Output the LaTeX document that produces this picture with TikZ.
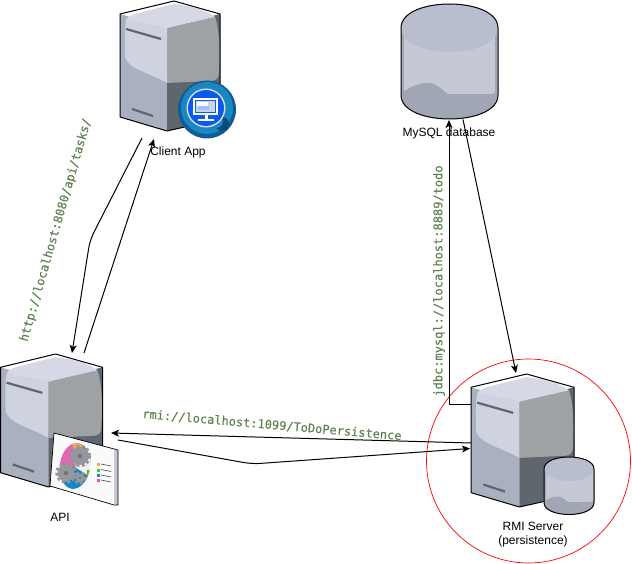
\documentclass[tikz,border=0pt]{standalone}
\usepackage{fontspec}
\setmainfont{Liberation Sans}
\newfontfamily\urlfont[FakeBold=0.25]{DejaVu Sans Mono}
\usetikzlibrary{arrows.meta,calc}
\definecolor{srvleft}{HTML}{A9B0BF}
\definecolor{srvhigh}{HTML}{CFD3DF}
\definecolor{srvtop}{HTML}{D6D9E5}
\definecolor{srvright}{HTML}{9EA2A4}
\definecolor{srvdark}{HTML}{5F666D}
\definecolor{cyltop}{HTML}{B9BECE}
\definecolor{cylbody}{HTML}{C5C9D4}
\definecolor{cyllow}{HTML}{A1A6B5}
\definecolor{urlgreen}{HTML}{5E8350}
\definecolor{ballout}{HTML}{0D5E95}
\definecolor{ballmid}{HTML}{1A86C4}
\definecolor{ballin}{HTML}{0A5CEE}
\definecolor{gearc}{HTML}{94979D}
\tikzset{
  x=1pt,y=-1pt,
  conn/.style={draw=black,line width=1pt,line join=round},
  arrowed/.style={-{Stealth[length=8pt,width=7pt,inset=2pt]}},
  holder/.style={inner sep=0pt,outer sep=0pt,draw=none},
  caplabel/.style={font=\fontsize{12}{14}\selectfont,align=center,inner sep=0pt},
  urllabel/.style={font=\urlfont\fontsize{12}{14}\selectfont,text=urlgreen,inner sep=0pt},
  server/.pic={
    \fill[srvleft] (0,13)--(47,27)--(47,130)--(0,116)--cycle;
    \fill[srvdark] (47,27)--(100,13)--(100,118)--(47,130)--cycle;
    \fill[srvright] (47,27)--(95,16) .. controls (100,30) and (100,55) .. (99,70)
       .. controls (99,78) and (96,80) .. (90,80) -- (47,82)--cycle;
    \fill[srvhigh] (47,27)--(6,19) .. controls (4,30) and (5,45) .. (5,56)
       .. controls (8,68) and (30,72) .. (47,82)--cycle;
    \fill[srvtop] (47,27)--(6,19) .. controls (9,13) and (20,12) .. (30,9)
       -- (54,3) .. controls (70,5) and (85,8) .. (95,16)--cycle;
    \draw[line width=2.2pt,color=srvdark] (6,28)--(41,38) (12,108)--(33,115);
    \draw[line width=1pt,line join=round] (0,13)--(54,0)--(100,13)--(100,118)--(47,130)--(0,116)--cycle;
  },
  drum/.pic={
    \fill[cyllow] (0,24) .. controls (0,-8) and (100,-8) .. (100,24) -- (100,91)
      .. controls (100,123) and (0,123) .. (0,91) -- cycle;
    \fill[cylbody] (3,30)--(97,30)--(97,90)--(3,90)--cycle;
    \fill[cyllow] (2,88) .. controls (10,83) and (17,79) .. (28,79)
      .. controls (42,79) and (44,94) .. (62,94)
      .. controls (74,94) and (88,93) .. (98,88) -- (98,100) -- (2,100) -- cycle;
    \fill[cyltop] (0,24) .. controls (0,-8) and (100,-8) .. (100,24)
      .. controls (98,56) and (2,56) .. (0,24) -- cycle;
    \draw[line width=1pt] (0,24) .. controls (0,-8) and (100,-8) .. (100,24) -- (100,91)
      .. controls (100,123) and (0,123) .. (0,91) -- cycle;
  }
}
\begin{document}
\begin{tikzpicture}
\useasboundingbox (0,0) rectangle (632,564);
% persistence ring
\node[holder,draw=red,line width=0.7pt,circle,minimum size=204pt] (ring) at (528.5,461) {};
% servers
\node[holder,minimum width=100pt,minimum height=130pt] (client) at (170,66) {};
\node[holder,minimum width=102pt,minimum height=133pt] (api) at (52,420.5) {};
\node[holder,minimum width=103pt,minimum height=133pt] (rmi) at (522.5,440.5) {};
\node[holder,minimum width=97pt,minimum height=115pt] (mysql) at (449.5,62) {};
\pic at (120,1) {server};
\pic[xscale=1.02,yscale=1.023] at (0.5,354) {server};
\pic[xscale=1.03,yscale=1.023] at (471,374) {server};
\pic[xscale=0.97] at (401,4) {drum};
\pic[xscale=0.5,yscale=0.5] at (544,457) {drum};
% client icon
\fill[ballout] (207,109.5) circle (29);
\fill[ballmid] (207,108) circle (26);
\fill[ballout!80!black] (222,124) circle (7);
\fill[ballmid] (216,121) circle (7);
\fill[white!75!gray] (206,108) circle (19.5);
\fill[ballin] (206,108) circle (18);
\fill[white] (193,98) rectangle (218,115);
\fill[ballin] (195,100) rectangle (216,113);
\fill[srvhigh] (196,101) rectangle (215,112);
\fill[white] (197,102) rectangle (208,106);
\fill[ballin!40!white] (198,106) rectangle (209,110);
\fill[white] (204.5,115) rectangle (207.5,119);
\fill[white] (198,119) rectangle (214,121);
% api board
\fill[srvleft!70!white] (114,449)--(118,450)--(118,505)--(114,504)--cycle;
\fill[white!96!gray] (54,433)--(114,449)--(114,504)--(50,486)--cycle;
\draw[line width=0.7pt,line join=round] (50,486)--(54,433)--(118,450)--(118,505)--(114,505)--cycle;
\begin{scope}
  \clip[rotate around={-8:(75,466)}] (75,466) ellipse (15 and 23);
  \fill[ballmid] (55,440) rectangle (95,495);
  \fill[white!90!gray] (75,467)--(95,440)--(95,480)--cycle;
  \fill[black!10!magenta!65!white] (75,467)--(55,467)--(55,440)--(72,440)--cycle;
  \fill[orange!70!white] (72,440)--(75,467)--(85,440)--cycle;
  \fill[green!50!black!60!yellow] (87,470) rectangle (95,478);
\end{scope}
\foreach \gx/\gy/\gr in {66/473/8.5,80/456/9,80/478/4.5}{
  \draw[gearc,line width=2.5pt,dash pattern=on 2.8pt off 2.6pt] (\gx,\gy) circle (\gr+1);
  \fill[gearc] (\gx,\gy) circle (\gr);
  \fill[black!55] (\gx,\gy) circle (\gr*0.25);
}
\foreach \ly/\lc in {463/orange!70!white,468.5/green!60!yellow!80!black,474/ballmid,479/magenta!70!white}{
  \fill[\lc] (96.5,\ly) rectangle (99.5,\ly+3);
  \draw[black!70,line width=0.6pt] (101,\ly+1)--(111,\ly+3);
}
% captions
\node[caplabel] (clientlabel) at (178,152) {Client App};
\node[caplabel] (apilabel) at (60,517) {API};
\node[caplabel] (rmilabel) at (533,535) {RMI Server\\(persistence)};
\node[caplabel] (mysqllabel) at (449,133) {MySQL database};
% connectors
\draw[conn,arrowed,rounded corners=8pt] ($(client.south)+(-28,7)$) -- ($(client.south)+(-80,109)$) -- ($(api.north)+(20,-1)$);
\draw[conn,arrowed] ($(api.north)+(32,-1)$) -- ($(client.south)+(-16,8)$);
\draw[conn,arrowed] (rmi.west |- 0,404.5) -- (449,404.5) -- ($(mysql.south)+(-0.5,0.5)$);
\draw[conn,arrowed] ($(mysql.south)+(13.5,0)$) -- ($(rmi.north)+(-6.5,-1)$);
\draw[conn,arrowed] ($(rmi.west)+(0,2.5)$) -- ($(api.east)+(8,12.5)$);
\draw[conn,arrowed,rounded corners=8pt] ($(api.east)+(15,19.5)$) -- ($(api.east)+(149,43.5)$) -- ($(rmi.west)+(-1,8)$);
% url labels
\node[urllabel,rotate=74] (httpurl) at (56,230) {http://localhost:8080/api/tasks/};
\node[urllabel,rotate=90] (jdbcurl) at (439,281) {jdbc:mysql://localhost:8889/todo};
\node[urllabel,rotate=-4.9] (rmiurl) at (272,425) {rmi://localhost:1099/ToDoPersistence};
\end{tikzpicture}
\end{document}
